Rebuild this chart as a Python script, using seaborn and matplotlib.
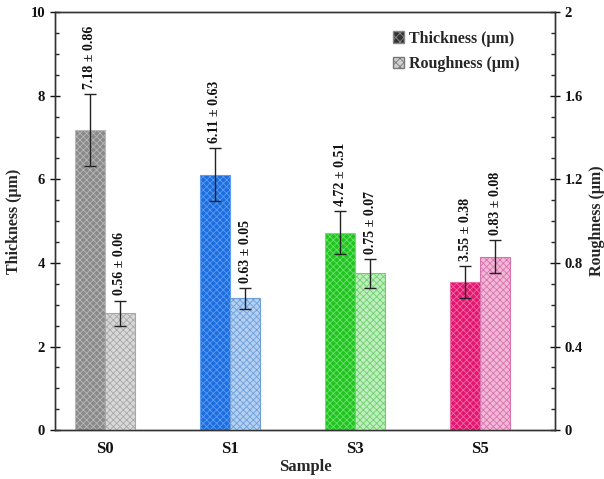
import matplotlib
matplotlib.use("Agg")
import matplotlib.pyplot as plt
import seaborn as sns
import pandas as pd
import numpy as np
from matplotlib.ticker import MultipleLocator, FuncFormatter
from matplotlib.patches import Patch

samples = ["S0", "S1", "S3", "S5"]
thickness = [7.18, 6.11, 4.72, 3.55]
thickness_err = [0.86, 0.63, 0.51, 0.38]
roughness = [0.56, 0.63, 0.75, 0.83]
roughness_err = [0.06, 0.05, 0.07, 0.08]

thick_colors = ["#8a8a8a", "#1a6ee0", "#1fc41f", "#e2156f"]
thick_hatch = ["#b8b8b8", "#5e9cf0", "#6ee06e", "#f06aa6"]
rough_colors = ["#d8d8d8", "#b3d0f2", "#bfeebf", "#f3b8d8"]
rough_hatch = ["#a8a8a8", "#6f9fd8", "#6fd06f", "#d673ac"]

sns.set_theme(style="white")
plt.rcParams["font.family"] = ["Liberation Serif", "DejaVu Serif"]
plt.rcParams["font.weight"] = "bold"
plt.rcParams["hatch.linewidth"] = 0.6

fig = plt.figure(figsize=(6.04, 4.79), dpi=100)
ax = fig.add_axes([0.091, 0.102, 0.828, 0.873])
ax2 = ax.twinx()

hue_order = ["Thickness", "Roughness"]
df_t = pd.DataFrame({"Sample": samples, "value": thickness, "kind": "Thickness"})
df_r = pd.DataFrame({"Sample": samples, "value": roughness, "kind": "Roughness"})

sns.barplot(data=df_t, x="Sample", y="value", hue="kind", hue_order=hue_order,
            order=samples, dodge=True, width=0.48, errorbar=None, legend=False, ax=ax)
sns.barplot(data=df_r, x="Sample", y="value", hue="kind", hue_order=hue_order,
            order=samples, dodge=True, width=0.48, errorbar=None, legend=False, ax=ax2)

def style(axis, values, errs, fcs, hcs, label_off):
    bars = [p for p in axis.patches][:len(values)]
    for i, p in enumerate(bars):
        p.set_facecolor(fcs[i])
        p.set_edgecolor(hcs[i])
        p.set_hatch("xxxxx")
        p.set_linewidth(0.8)
        cx = p.get_x() + p.get_width() / 2
        axis.errorbar(cx, values[i], yerr=errs[i], fmt="none", ecolor="#222222",
                      elinewidth=1.0, capsize=4, capthick=1.0, zorder=5)
        axis.text(cx, values[i] + errs[i] + label_off, f"{values[i]:.2f} ± {errs[i]:.2f}",
                  rotation=90, ha="center", va="bottom", fontsize=10,
                  fontweight="bold", color="#111111")

style(ax, thickness, thickness_err, thick_colors, thick_hatch, 0.12)
style(ax2, roughness, roughness_err, rough_colors, rough_hatch, 0.024)

ax.set_xlim(-0.4, 3.6)
ax.set_ylim(0, 10)
ax2.set_ylim(0, 2)
ax.yaxis.set_major_locator(MultipleLocator(2))
ax.yaxis.set_minor_locator(MultipleLocator(0.5))
ax2.yaxis.set_major_locator(MultipleLocator(0.4))
ax2.yaxis.set_minor_locator(MultipleLocator(0.1))
ax.yaxis.set_major_formatter(FuncFormatter(lambda v, p: f"{v:g}"))
ax2.yaxis.set_major_formatter(FuncFormatter(lambda v, p: f"{round(v, 1):g}"))

for a in (ax, ax2):
    for s in a.spines.values():
        s.set_color("#333333")
        s.set_linewidth(1.0)
ax.tick_params(axis="y", which="major", direction="inout", length=7, width=1,
               labelsize=10.5, colors="#111111", left=True)
ax.tick_params(axis="y", which="minor", direction="in", length=3, width=1, left=True)
ax2.tick_params(axis="y", which="major", direction="inout", length=7, width=1,
                labelsize=10.5, colors="#111111", right=True)
ax2.tick_params(axis="y", which="minor", direction="in", length=3, width=1, right=True)
ax.tick_params(axis="x", length=0, labelsize=12, colors="#111111", pad=8)
for lab in ax.get_xticklabels() + ax.get_yticklabels() + ax2.get_yticklabels():
    lab.set_fontweight("bold")

ax.set_xlabel("Sample", fontsize=12, fontweight="bold", labelpad=1)
ax.set_ylabel("Thickness (μm)", fontsize=11.5, fontweight="bold", labelpad=6)
ax2.set_ylabel("Roughness (μm)", fontsize=11.5, fontweight="bold", labelpad=4)

handles = [Patch(facecolor="#333333", edgecolor="#888888", hatch="xxxx", label="Thickness (μm)"),
           Patch(facecolor="#cfcfcf", edgecolor="#777777", hatch="xxxx", label="Roughness (μm)")]
leg = ax2.legend(handles=handles, loc="upper right", bbox_to_anchor=(0.958, 0.99),
                 frameon=False, handlelength=0.7, handleheight=0.7, handletextpad=0.3,
                 labelspacing=0.6, prop={"weight": "bold", "size": 11.5})

fig.savefig("out.png", dpi=100)
